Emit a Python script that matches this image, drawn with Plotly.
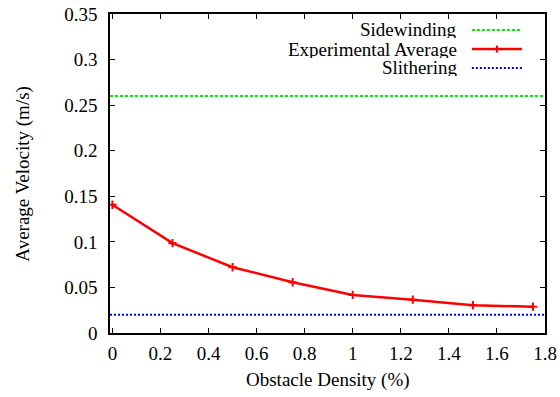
import plotly.graph_objects as go

density = [0, 0.25, 0.5, 0.75, 1.0, 1.25, 1.5, 1.75]
experimental = [0.1407, 0.0986, 0.0722, 0.0557, 0.0418, 0.0366, 0.0304, 0.0289]
sidewinding = 0.26
slithering = 0.02
x_range = [-0.01, 1.8]
x_ticks = [0, 0.2, 0.4, 0.6, 0.8, 1.0, 1.2, 1.4, 1.6, 1.8]
x_ticklabels = ["0", "0.2", "0.4", "0.6", "0.8", "1", "1.2", "1.4", "1.6", "1.8"]
y_ticks = [0, 0.05, 0.1, 0.15, 0.2, 0.25, 0.3, 0.35]
y_ticklabels = ["0", "0.05", "0.1", "0.15", "0.2", "0.25", "0.3", "0.35"]
labels = ["Sidewinding", "Experimental Average", "Slithering"]

FONT = "Liberation Serif"
GREEN = "#00ee00"
RED = "#ff0000"
BLUE = "#0000ff"
FS = 19

fig = go.Figure()
fig.add_trace(go.Scatter(x=x_range, y=[sidewinding, sidewinding], mode="lines",
                         line=dict(color=GREEN, width=2, dash="3px,2px"), showlegend=False))
fig.add_trace(go.Scatter(x=x_range, y=[slithering, slithering], mode="lines",
                         line=dict(color=BLUE, width=2, dash="2px,2px"), showlegend=False))
fig.add_trace(go.Scatter(x=density, y=experimental, mode="lines+markers",
                         line=dict(color=RED, width=2.5),
                         marker=dict(symbol="cross-thin", size=6, line=dict(color=RED, width=2)),
                         showlegend=False))

# Legend (gnuplot style: text right-aligned, sample on the right)
leg_y = [0.95, 0.89, 0.831]
styles = [dict(color=GREEN, width=2, dash="3px,2px"),
          dict(color=RED, width=2.5),
          dict(color=BLUE, width=2, dash="2px,2px")]
for lab, yy, st in zip(labels, leg_y, styles):
    fig.add_annotation(x=0.8, y=yy, xref="paper", yref="paper", text=lab, showarrow=False,
                       xanchor="right", yanchor="middle", height=17, borderpad=0,
                       font=dict(family=FONT, size=FS, color="black"))
    fig.add_shape(type="line", xref="paper", yref="paper", x0=0.832, x1=0.947, y0=yy, y1=yy, line=st)
fig.add_shape(type="line", xref="paper", yref="paper", x0=0.882, x1=0.897, y0=leg_y[1], y1=leg_y[1],
              line=dict(color=RED, width=2))
fig.add_shape(type="line", xref="paper", yref="paper", x0=0.8895, x1=0.8895, y0=leg_y[1] - 0.011,
              y1=leg_y[1] + 0.011, line=dict(color=RED, width=2))

# Axis titles
fig.add_annotation(x=0.5, y=-0.147, xref="paper", yref="paper", text="Obstacle Density (%)",
                   showarrow=False, xanchor="center", yanchor="middle",
                   font=dict(family=FONT, size=FS, color="black"))
fig.add_annotation(x=-0.202, y=0.5, xref="paper", yref="paper", text="Average Velocity (m/s)",
                   showarrow=False, xanchor="center", yanchor="middle", textangle=-90,
                   font=dict(family=FONT, size=FS, color="black"))

axis_common = dict(showgrid=False, zeroline=False, showline=True, linecolor="black", linewidth=1.5,
                   mirror="ticks", ticks="inside", ticklen=5, tickcolor="black", tickwidth=1,
                   automargin=False,
                   tickfont=dict(family=FONT, size=FS, color="black"))
fig.update_xaxes(range=x_range, tickvals=x_ticks, ticktext=x_ticklabels, ticklabelstandoff=2, **axis_common)
fig.update_yaxes(range=[0, 0.35], tickvals=y_ticks, ticktext=y_ticklabels, ticklabelstandoff=7, **axis_common)
fig.update_layout(width=560, height=397, margin=dict(l=110, r=15, t=14, b=64),
                  plot_bgcolor="white", paper_bgcolor="white",
                  font=dict(family=FONT, size=FS, color="black"))
fig.write_html("out.html", post_script="document.body.style.margin='0';",
               config={"displayModeBar": False})
